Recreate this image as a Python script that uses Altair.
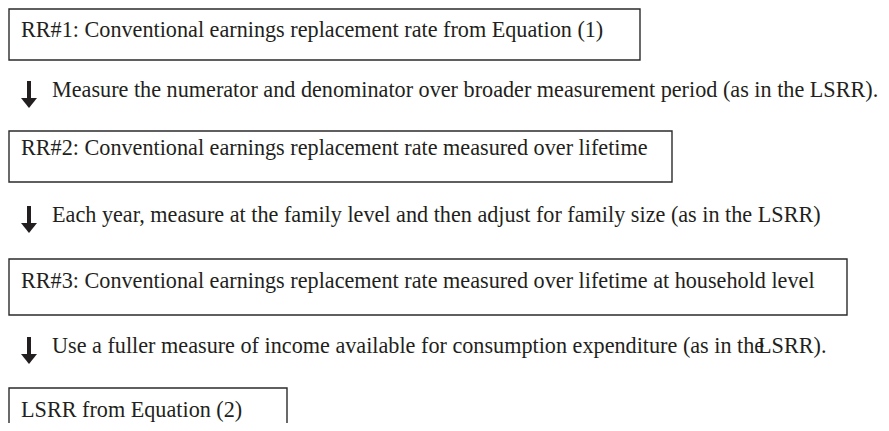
import altair as alt
import pandas as pd

# ---- content ----
steps = [
    "RR#1: Conventional earnings replacement rate from Equation (1)",
    "RR#2: Conventional earnings replacement rate measured over lifetime",
    "RR#3: Conventional earnings replacement rate measured over lifetime at household level",
    "LSRR from Equation (2)",
]
transitions = [
    "Measure the numerator and denominator over broader measurement period (as in the LSRR).",
    "Each year, measure at the family level and then adjust for family size (as in the LSRR)",
    "Use a fuller measure of income available for consumption expenditure (as in the",
]
overlap_fragment = ["LSRR)."]

# ---- layout (page pixels) ----
box_x0 = [9, 9, 9, 9]
box_x1 = [640, 672, 847, 287]
box_y0 = [9, 131, 259, 388]
box_y1 = [60, 182, 315, 450]
step_text_x = [21, 21, 21, 21]
step_baseline = [37, 155, 288, 417]

arrow_x = [29, 29, 29]
trans_text_x = [52, 52, 52]
trans_baseline = [97, 222, 353]
frag_x = [758]
frag_baseline = [353]

W, H = 873, 415
FONT = "'Liberation Serif', 'Times New Roman', Times, 'DejaVu Serif', serif"
INK = "#231f20"

xs = alt.Scale(domain=[8, 8 + W], nice=False, zero=False)
ys = alt.Scale(domain=[8, 8 + H], nice=False, zero=False, reverse=True)

boxes = pd.DataFrame({"x0": box_x0, "x1": box_x1, "y0": box_y0, "y1": box_y1})
step_df = pd.DataFrame({"x": step_text_x, "y": step_baseline, "label": steps})
trans_df = pd.DataFrame({"x": trans_text_x, "y": trans_baseline, "label": transitions})
frag_df = pd.DataFrame({"x": frag_x, "y": frag_baseline, "label": overlap_fragment})
arrows = pd.DataFrame({
    "x": arrow_x,
    "top": [b - 16 for b in trans_baseline],
    "base": [b + 1 for b in trans_baseline],
})

box_layer = alt.Chart(boxes).mark_rect(
    filled=False, stroke="#2b2b2b", strokeWidth=1.4, clip=True
).encode(
    x=alt.X("x0:Q", scale=xs, axis=None),
    x2="x1:Q",
    y=alt.Y("y0:Q", scale=ys, axis=None),
    y2="y1:Q",
)

text_common = dict(align="left", baseline="alphabetic", fontSize=22.2, font=FONT, color=INK)

step_layer = alt.Chart(step_df).mark_text(**text_common).encode(
    x=alt.X("x:Q", scale=xs, axis=None),
    y=alt.Y("y:Q", scale=ys, axis=None),
    text="label:N",
)
trans_layer = alt.Chart(trans_df).mark_text(**text_common).encode(
    x=alt.X("x:Q", scale=xs, axis=None),
    y=alt.Y("y:Q", scale=ys, axis=None),
    text="label:N",
)
frag_layer = alt.Chart(frag_df).mark_text(**text_common).encode(
    x=alt.X("x:Q", scale=xs, axis=None),
    y=alt.Y("y:Q", scale=ys, axis=None),
    text="label:N",
)

shaft_layer = alt.Chart(arrows).mark_rule(color=INK, strokeWidth=4).encode(
    x=alt.X("x:Q", scale=xs, axis=None),
    y=alt.Y("top:Q", scale=ys, axis=None),
    y2="base:Q",
)
head_layer = alt.Chart(arrows).mark_point(
    shape="M-1,0L1,0L0,1.25Z", filled=True, color=INK, opacity=1, size=256
).encode(
    x=alt.X("x:Q", scale=xs, axis=None),
    y=alt.Y("base:Q", scale=ys, axis=None),
)

chart = alt.layer(
    box_layer, shaft_layer, head_layer, step_layer, trans_layer, frag_layer
).properties(
    width=W, height=H, padding=0, autosize=alt.AutoSizeParams(type="none"),
    background="white",
).configure_view(strokeWidth=0)

chart.save("out.html", embed_options={"renderer": "svg", "actions": False})
